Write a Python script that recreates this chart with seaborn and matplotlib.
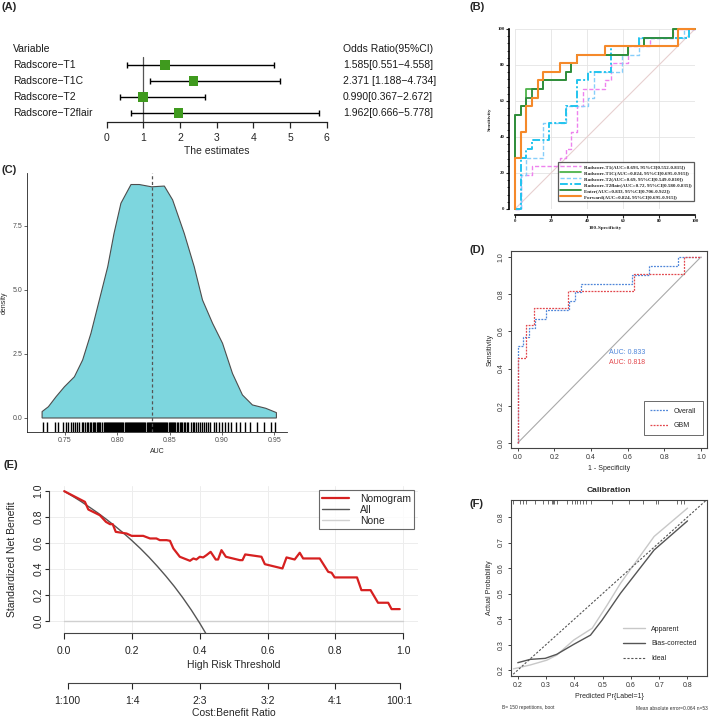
import matplotlib
matplotlib.use('Agg')
import matplotlib.pyplot as plt
import matplotlib.transforms as mtransforms
import numpy as np
import seaborn as sns

# ---------------- data ----------------
# (A) forest plot
forest_vars = ['Radscore−T1', 'Radscore−T1C', 'Radscore−T2', 'Radscore−T2flair']
forest_or = [1.585, 2.371, 0.990, 1.962]
forest_lo = [0.551, 1.188, 0.367, 0.666]
forest_hi = [4.558, 4.734, 2.672, 5.778]
forest_txt = ['1.585[0.551−4.558]', '2.371 [1.188−4.734]', '0.990[0.367−2.672]', '1.962[0.666−5.778]']

# (B) ROC step curves, counts of false positives (of 32) and true positives (of 21)
n_neg, n_pos = 32, 21
t1_fp = [0, 1, 1, 3, 3, 8, 8, 9, 9, 10, 10, 11, 11, 12, 12, 16, 16, 17, 17, 20, 20, 24, 24, 28, 28, 32]
t1_tp = [0, 0, 4, 4, 5, 5, 6, 6, 7, 7, 9, 9, 12, 12, 14, 14, 15, 15, 17, 17, 19, 19, 20, 20, 21, 21]
t1c_fp = [0, 0, 1, 1, 2, 2, 3, 5, 5, 9, 9, 10, 10, 11, 11, 20, 20, 23, 23, 28, 28, 32]
t1c_tp = [0, 11, 11, 12, 12, 14, 14, 14, 15, 15, 16, 16, 17, 17, 18, 18, 19, 19, 20, 20, 21, 21]
t2_fp = [0, 1, 1, 2, 2, 5, 5, 9, 9, 13, 13, 14, 14, 19, 19, 22, 22, 30, 30, 32]
t2_tp = [0, 0, 4, 4, 6, 6, 10, 10, 12, 12, 13, 13, 16, 16, 18, 18, 20, 20, 21, 21]
t2f_fp = [0, 1, 1, 2, 2, 3, 3, 6, 6, 9, 9, 11, 11, 13, 13, 17, 17, 22, 22, 31, 31, 32]
t2f_tp = [0, 0, 6, 6, 7, 7, 8, 8, 10, 10, 12, 12, 15, 15, 16, 16, 19, 19, 20, 20, 21, 21]
enter_fp = [0, 0, 1, 1, 2, 2, 3, 3, 5, 5, 9, 9, 10, 10, 11, 11, 20, 20, 23, 23, 28, 28, 32]
enter_tp = [0, 11, 11, 12, 12, 13, 13, 14, 14, 15, 15, 16, 16, 17, 17, 18, 18, 19, 19, 20, 20, 21, 21]
fwd_fp = [0, 0, 1, 1, 2, 2, 3, 3, 4, 4, 5, 5, 8, 8, 11, 11, 16, 16, 29, 29, 32]
fwd_tp = [0, 6, 6, 9, 9, 12, 12, 13, 13, 15, 15, 16, 16, 17, 17, 18, 18, 19, 19, 21, 21]
roc_labels = ['Radscore-T1(AUC=0.693, 95%CI[0.552-0.815])',
              'Radscore-T1C(AUC=0.824, 95%CI[0.695-0.915])',
              'Radscore-T2(AUC=0.69, 95%CI[0.549-0.810])',
              'Radscore-T2flair(AUC=0.72, 95%CI[0.580-0.835])',
              'Enter(AUC=0.833, 95%CI[0.706-0.922])',
              'Forward(AUC=0.824, 95%CI[0.695-0.915])']

# (C) bootstrap AUC density
dens_x = [0.7284, 0.7284, 0.7344, 0.7417, 0.7497, 0.7592, 0.7671, 0.7750, 0.7830, 0.7910, 0.7970,
          0.8036, 0.8132, 0.8211, 0.8329, 0.8450, 0.8529, 0.8640, 0.8735, 0.8814, 0.8910, 0.9005,
          0.9100, 0.9195, 0.9290, 0.9417, 0.9519, 0.9519]
dens_y = [0.0, 0.25, 0.44, 0.83, 1.22, 1.61, 2.27, 3.31, 4.61, 5.91, 7.21,
          8.39, 9.12, 9.12, 9.03, 9.06, 8.52, 7.21, 5.91, 4.61, 3.70, 2.92,
          1.74, 0.90, 0.51, 0.38, 0.21, 0.0]
auc_mean = 0.833
rug_auc = [0.729, 0.733, 0.741, 0.744, 0.748, 0.751, 0.753, 0.756, 0.758, 0.760, 0.762, 0.764, 0.766,
           0.767, 0.769, 0.771, 0.772, 0.774, 0.775, 0.777, 0.778, 0.779, 0.781, 0.782, 0.783, 0.784,
           0.786, 0.787, 0.788, 0.789, 0.790, 0.791, 0.792, 0.793, 0.794, 0.795, 0.796, 0.797, 0.798,
           0.799, 0.800, 0.801, 0.802, 0.803, 0.804, 0.805, 0.806, 0.807, 0.808, 0.809, 0.810, 0.811,
           0.812, 0.813, 0.814, 0.815, 0.816, 0.817, 0.818, 0.819, 0.820, 0.821, 0.822, 0.823, 0.824,
           0.825, 0.826, 0.827, 0.828, 0.829, 0.830, 0.831, 0.832, 0.833, 0.834, 0.835, 0.836, 0.837,
           0.838, 0.839, 0.840, 0.841, 0.842, 0.843, 0.844, 0.845, 0.846, 0.847, 0.848, 0.849, 0.850,
           0.851, 0.852, 0.853, 0.854, 0.855, 0.857, 0.858, 0.860, 0.861, 0.862, 0.864, 0.865, 0.867,
           0.868, 0.870, 0.872, 0.873, 0.875, 0.877, 0.879, 0.881, 0.883, 0.885, 0.887, 0.889, 0.892,
           0.894, 0.897, 0.900, 0.903, 0.906, 0.909, 0.913, 0.917, 0.922, 0.927, 0.933, 0.940, 0.947, 0.951]

# (D) ROC overall (32 neg / 21 pos) and GBM (22 neg / 11 pos)
ov_fp = enter_fp
ov_tp = enter_tp
gbm_fp = [0, 0, 1, 1, 2, 2, 6, 6, 14, 14, 20, 20, 22]
gbm_tp = [0, 5, 5, 7, 7, 8, 8, 9, 9, 10, 10, 11, 11]
gbm_neg, gbm_pos = 22, 11

# (E) decision curve
nomo_x = [0, 0.061, 0.071, 0.105, 0.123, 0.135, 0.143, 0.152, 0.184, 0.199, 0.233, 0.253, 0.272, 0.282,
          0.302, 0.312, 0.322, 0.341, 0.371, 0.381, 0.390, 0.400, 0.410, 0.420, 0.432, 0.447, 0.454,
          0.464, 0.477, 0.518, 0.526, 0.534, 0.582, 0.592, 0.644, 0.656, 0.680, 0.695, 0.705, 0.754,
          0.779, 0.789, 0.798, 0.864, 0.877, 0.904, 0.926, 0.956, 0.966, 0.990]
nomo_y = [1.000, 0.918, 0.859, 0.815, 0.764, 0.746, 0.746, 0.687, 0.674, 0.656, 0.656, 0.636, 0.636, 0.623,
          0.623, 0.618, 0.559, 0.495, 0.464, 0.482, 0.474, 0.495, 0.490, 0.508, 0.533, 0.474, 0.474,
          0.546, 0.495, 0.469, 0.469, 0.513, 0.495, 0.438, 0.405, 0.490, 0.474, 0.526, 0.482, 0.482,
          0.379, 0.372, 0.336, 0.336, 0.238, 0.238, 0.141, 0.141, 0.092, 0.092]
all_x = [0, 0.025, 0.05, 0.075, 0.1, 0.125, 0.15, 0.175, 0.2, 0.225, 0.25, 0.275, 0.3, 0.325, 0.35,
         0.375, 0.4, 0.42]
all_y = [1.0, 0.961, 0.920, 0.876, 0.831, 0.782, 0.731, 0.677, 0.619, 0.558, 0.492, 0.421, 0.346,
         0.266, 0.179, 0.085, -0.017, -0.105]
none_x = [0, 1]
none_y = [0, 0]
cb_ticks = [0.01, 0.2, 0.4, 0.6, 0.8, 0.99]
cb_labels = ['1:100', '1:4', '2:3', '3:2', '4:1', '100:1']

# (F) calibration
cal_rug = [0.184, 0.208, 0.220, 0.229, 0.261, 0.288, 0.308, 0.320, 0.326, 0.329, 0.338, 0.374, 0.392,
           0.403, 0.409, 0.421, 0.430, 0.442, 0.459, 0.534, 0.593, 0.644, 0.687, 0.696, 0.764, 0.776, 0.788]
app_x = [0.185, 0.244, 0.303, 0.338, 0.398, 0.463, 0.516, 0.563, 0.682, 0.800]
app_y = [0.205, 0.220, 0.239, 0.259, 0.318, 0.364, 0.455, 0.540, 0.724, 0.835]
bias_x = [0.200, 0.244, 0.297, 0.338, 0.398, 0.457, 0.498, 0.563, 0.682, 0.800]
bias_y = [0.229, 0.242, 0.246, 0.262, 0.301, 0.337, 0.396, 0.501, 0.671, 0.785]
ideal_x = [0, 1]
ideal_y = [0, 1]

# ---------------- figure ----------------
sns.set_style('white')
plt.rcParams['font.family'] = ['Liberation Sans', 'DejaVu Sans']
plt.rcParams['axes.unicode_minus'] = True

W, H = 709, 721
fig = plt.figure(figsize=(W / 100, H / 100), dpi=100)


def rect(l, t, r, b):
    return [l / W, 1 - b / H, (r - l) / W, (b - t) / H]


def panel_label(x, y, s):
    fig.text(x / W, 1 - y / H, s, fontsize=8, fontweight='bold', va='center', ha='left')


# ---- (A) forest plot
ax = fig.add_axes(rect(106.7, 41, 326.7, 122))
rows = np.arange(len(forest_vars))
ax.errorbar(forest_or, rows,
            xerr=[np.subtract(forest_or, forest_lo), np.subtract(forest_hi, forest_or)],
            fmt='none', ecolor='black', elinewidth=1.0, capsize=2.0, capthick=1.0, zorder=2)
ax.plot([1, 1], [-0.5, 3.54], color='#555555', lw=0.9, zorder=1)
sns.scatterplot(x=forest_or, y=rows, marker='s', s=48, color='#3F9A1E', edgecolor='none', ax=ax, zorder=3)
ax.set_xlim(0, 6)
ax.set_ylim(3.54, -1.49)
for s in ['top', 'right', 'left']:
    ax.spines[s].set_visible(False)
ax.spines['bottom'].set_color('#222222')
ax.spines['bottom'].set_linewidth(0.9)
ax.set_yticks([])
ax.set_xticks(range(7))
ax.tick_params(axis='x', direction='out', length=4, width=0.9, labelsize=7.5, pad=4, bottom=True)
ax.set_xlabel('The estimates', fontsize=7.5, labelpad=2)
trans = mtransforms.blended_transform_factory(fig.transFigure, ax.transData)
ax.text(13 / W, -1, 'Variable', transform=trans, va='center', fontsize=7.5, color='#1a1a1a')
ax.text(343 / W, -1, 'Odds Ratio(95%CI)', transform=trans, va='center', fontsize=7.5, color='#1a1a1a')
for i in rows:
    ax.text(13 / W, i, forest_vars[i], transform=trans, va='center', fontsize=7.5, color='#1a1a1a')
    ax.text(343 / W, i, forest_txt[i], transform=trans, va='center', fontsize=7.5, color='#1a1a1a')
panel_label(2, 7, '(A)')

# ---- (B) ROC curves
ax = fig.add_axes(rect(515, 29, 695, 209))
serif = {'family': 'Liberation Serif', 'weight': 'bold'}
ax.plot([0, 100], [0, 100], color='#E8CFCF', lw=0.8, zorder=1)
curves = [(t1_fp, t1_tp, '#EE82EE', (0, (3, 1.5)), 1.0),
          (t1c_fp, t1c_tp, '#4DB34A', '-', 1.3),
          (t2_fp, t2_tp, '#87CEFA', (0, (3, 1.5)), 1.0),
          (t2f_fp, t2f_tp, '#22C4EE', (0, (4, 1.2, 1, 1.2)), 1.4),
          (enter_fp, enter_tp, '#2E8B3A', '-', 1.3),
          (fwd_fp, fwd_tp, '#F5892A', '-', 1.5)]
for (fp, tp, c, ls, lw), lab in zip(curves, roc_labels):
    ax.plot(100 * np.array(fp) / n_neg, 100 * np.array(tp) / n_pos, color=c, ls=ls, lw=lw,
            label=lab, clip_on=False, zorder=2)
ax.set_xlim(0, 100)
ax.set_ylim(0, 100)
ax.set_xticks(range(0, 101, 20))
ax.set_yticks(range(0, 101, 20))
ax.set_yticks(range(0, 101, 4), minor=True)
ax.grid(True, which='major', color='#E4E4E4', lw=0.6)
ax.set_axisbelow(True)
for s in ['top', 'right']:
    ax.spines[s].set_visible(False)
for s in ['left', 'bottom']:
    ax.spines[s].set_position(('outward', 4))
    ax.spines[s].set_linewidth(1.2)
    ax.spines[s].set_color('black')
ax.tick_params(which='major', direction='out', length=2, width=0.8, labelsize=3.5, pad=1.5,
               left=True, bottom=True)
ax.tick_params(which='minor', direction='out', length=1.2, width=0.6, left=True)
for t in ax.get_xticklabels() + ax.get_yticklabels():
    t.set_fontfamily('Liberation Serif')
    t.set_fontweight('bold')
ax.set_xlabel('100-Specificity', fontdict={**serif, 'size': 3.8}, labelpad=2)
ax.set_ylabel('Sensitivity', fontdict={**serif, 'size': 3.8}, labelpad=4)
leg = ax.legend(loc='lower right', bbox_to_anchor=(1.011, 0.03), prop={**serif, 'size': 3.6},
                frameon=True, fancybox=False, edgecolor='#333333', handlelength=4.2,
                labelspacing=0.3, borderpad=0.5, handletextpad=0.6)
leg.get_frame().set_linewidth(0.9)
panel_label(470, 7, '(B)')

# ---- (C) density of bootstrap AUC
ax = fig.add_axes(rect(27, 173, 287, 432))
ax.fill(dens_x, dens_y, facecolor='#7DD6DE', edgecolor='#4D4D4D', lw=0.8, zorder=2)
ax.axvline(auc_mean, color='#555555', ls=(0, (2.5, 2)), lw=0.9, zorder=3)
sns.rugplot(x=rug_auc, height=0.04, color='black', lw=0.5, ax=ax, expand_margins=False)
ax.set_xlim(0.714, 0.962)
ax.set_ylim(-0.547, 9.57)
ax.set_xticks([0.75, 0.80, 0.85, 0.90, 0.95])
ax.set_xticklabels(['0.75', '0.80', '0.85', '0.90', '0.95'])
ax.set_yticks([0, 2.5, 5.0, 7.5])
ax.set_yticklabels(['0.0', '2.5', '5.0', '7.5'])
for s in ['top', 'right']:
    ax.spines[s].set_visible(False)
for s in ['left', 'bottom']:
    ax.spines[s].set_linewidth(0.6)
    ax.spines[s].set_color('#222222')
ax.tick_params(direction='out', length=2, width=0.5, labelsize=5, labelcolor='#4D4D4D', pad=1.5,
               left=True, bottom=True)
ax.set_xlabel('AUC', fontsize=5, labelpad=3)
ax.set_ylabel('density', fontsize=5, labelpad=3)
panel_label(2, 170, '(C)')

# ---- (D) ROC overall vs GBM
ax = fig.add_axes(rect(510.7, 251, 707, 448))
ax.plot([0, 1], [0, 1], color='#AAAAAA', lw=0.8)
ax.plot(np.array(ov_fp) / n_neg, np.array(ov_tp) / n_pos, color='#4F86D9', ls=(0, (1.5, 1)), lw=0.9,
        label='Overall')
ax.plot(np.array(gbm_fp) / gbm_neg, np.array(gbm_tp) / gbm_pos, color='#E2474C', ls=(0, (1.5, 1)),
        lw=0.9, label='GBM')
ax.text(0.5, 0.484, 'AUC: 0.833', color='#4F86D9', fontsize=5, va='center')
ax.text(0.5, 0.43, 'AUC: 0.818', color='#E2474C', fontsize=5, va='center')
ax.set_xlim(-0.038, 1.033)
ax.set_ylim(-0.027, 1.032)
ax.set_xticks(np.arange(0, 1.01, 0.2))
ax.set_yticks(np.arange(0, 1.01, 0.2))
ax.set_xticklabels(['0.0', '0.2', '0.4', '0.6', '0.8', '1.0'])
ax.set_yticklabels(['0.0', '0.2', '0.4', '0.6', '0.8', '1.0'], rotation=90, va='center')
for s in ax.spines.values():
    s.set_linewidth(0.8)
    s.set_color('#444444')
ax.tick_params(direction='out', length=2.5, width=0.6, labelsize=5, labelcolor='#333333', pad=2,
               left=True, bottom=True)
ax.set_xlabel('1 - Specificity', fontsize=5, labelpad=3)
ax.set_ylabel('Sensitivity', fontsize=5, labelpad=3)
leg = ax.legend(loc='lower right', bbox_to_anchor=(0.995, 0.046), fontsize=5, frameon=True,
                fancybox=False, edgecolor='#444444', handlelength=2.6, labelspacing=1.1,
                borderpad=0.9, handletextpad=0.8)
leg.get_frame().set_linewidth(0.7)
panel_label(470, 250, '(D)')

# ---- (E) decision curve
ax = fig.add_axes(rect(49, 486, 418, 633))
ax.grid(True, color='#EDEDED', lw=0.7)
ax.set_axisbelow(True)
sns.lineplot(x=none_x, y=none_y, color='#D0D0D0', lw=1.0, ax=ax, label='None', sort=False, estimator=None)
sns.lineplot(x=all_x, y=all_y, color='#555555', lw=1.0, ax=ax, label='All', sort=False, estimator=None)
sns.lineplot(x=nomo_x, y=nomo_y, color='#D62020', lw=1.6, ax=ax, label='Nomogram', sort=False,
             estimator=None)
ax.set_xlim(-0.045, 1.044)
ax.set_ylim(-0.092, 1.04)
ax.set_xticks(np.arange(0, 1.01, 0.2))
ax.set_yticks(np.arange(0, 1.01, 0.2))
ax.set_xticklabels(['0.0', '0.2', '0.4', '0.6', '0.8', '1.0'])
ax.set_yticklabels(['0.0', '0.2', '0.4', '0.6', '0.8', '1.0'], rotation=90, va='center')
for s in ['top', 'right']:
    ax.spines[s].set_visible(False)
for s in ['left', 'bottom']:
    ax.spines[s].set_bounds(0, 1)
    ax.spines[s].set_linewidth(0.8)
    ax.spines[s].set_color('#444444')
ax.tick_params(axis='x', direction='out', length=4, width=0.8, labelsize=7.5, labelcolor='#222222',
               pad=5, bottom=True)
ax.tick_params(axis='y', direction='out', length=3, width=0.8, labelsize=7.5, labelcolor='#222222',
               pad=1, left=True)
ax.set_xlabel('High Risk Threshold', fontsize=7.5, labelpad=3)
ax.set_ylabel('Standardized Net Benefit', fontsize=7.5, labelpad=12)
h, l = ax.get_legend_handles_labels()
order = [l.index('Nomogram'), l.index('All'), l.index('None')]
leg = ax.legend([h[i] for i in order], [l[i] for i in order], loc='upper right',
                bbox_to_anchor=(1.003, 1.005), fontsize=7.5, frameon=True, fancybox=False,
                edgecolor='#444444', handlelength=2.6, labelspacing=0.1, borderpad=0.3,
                handletextpad=1.0)
leg.get_frame().set_linewidth(0.8)
ax2 = ax.twiny()
ax2.set_xlim(ax.get_xlim())
ax2.xaxis.set_ticks_position('bottom')
ax2.xaxis.set_label_position('bottom')
for s in ['top', 'right', 'left']:
    ax2.spines[s].set_visible(False)
ax2.spines['bottom'].set_position(('outward', 36))
ax2.spines['bottom'].set_bounds(cb_ticks[0], cb_ticks[-1])
ax2.spines['bottom'].set_linewidth(0.8)
ax2.spines['bottom'].set_color('#444444')
ax2.set_xticks(cb_ticks)
ax2.set_xticklabels(cb_labels)
ax2.tick_params(direction='out', length=4, width=0.8, labelsize=7.5, labelcolor='#222222', pad=5,
                bottom=True, top=False)
ax2.set_xlabel('Cost:Benefit Ratio', fontsize=7.5, labelpad=2)
panel_label(3, 465, '(E)')

# ---- (F) calibration
ax = fig.add_axes(rect(510.7, 500, 707.3, 675.7))
sns.lineplot(x=app_x, y=app_y, color='#C8C8C8', lw=1.0, ax=ax, label='Apparent', sort=False, estimator=None)
sns.lineplot(x=bias_x, y=bias_y, color='#555555', lw=1.0, ax=ax, label='Bias-corrected', sort=False,
             estimator=None)
ax.plot(ideal_x, ideal_y, color='#555555', lw=0.8, ls=(0, (2, 1.5)), label='Ideal')
ax.vlines(cal_rug, 0.975, 1.0, transform=ax.get_xaxis_transform(), color='#555555', lw=0.6)
ax.set_xlim(0.175, 0.87)
ax.set_ylim(0.178, 0.867)
ax.set_xticks(np.arange(0.2, 0.81, 0.1))
ax.set_yticks(np.arange(0.2, 0.81, 0.1))
ax.set_xticklabels(['0.2', '0.3', '0.4', '0.5', '0.6', '0.7', '0.8'])
ax.set_yticklabels(['0.2', '0.3', '0.4', '0.5', '0.6', '0.7', '0.8'], rotation=90, va='center')
for s in ax.spines.values():
    s.set_linewidth(0.8)
    s.set_color('#444444')
ax.tick_params(direction='out', length=2.5, width=0.6, labelsize=5, labelcolor='#333333', pad=2,
               left=True, bottom=True)
ax.set_xlabel('Predicted Pr{Label=1}', fontsize=5, labelpad=3)
ax.set_ylabel('Actual Probability', fontsize=5, labelpad=3)
ax.set_title('Calibration', fontsize=6, fontweight='bold', pad=6)
ax.legend(loc='upper left', bbox_to_anchor=(0.54, 0.32), fontsize=5, frameon=False, handlelength=3.2,
          labelspacing=1.1, handletextpad=0.8)
fig.text(502 / W, 1 - 708 / H, 'B= 150 repetitions, boot', fontsize=3.5, va='center', color='#333333')
fig.text(708 / W, 1 - 708 / H, 'Mean absolute error=0.064 n=53', fontsize=3.5, va='center', ha='right',
         color='#333333')
panel_label(470, 504, '(F)')

fig.savefig('out.png', dpi=100)
